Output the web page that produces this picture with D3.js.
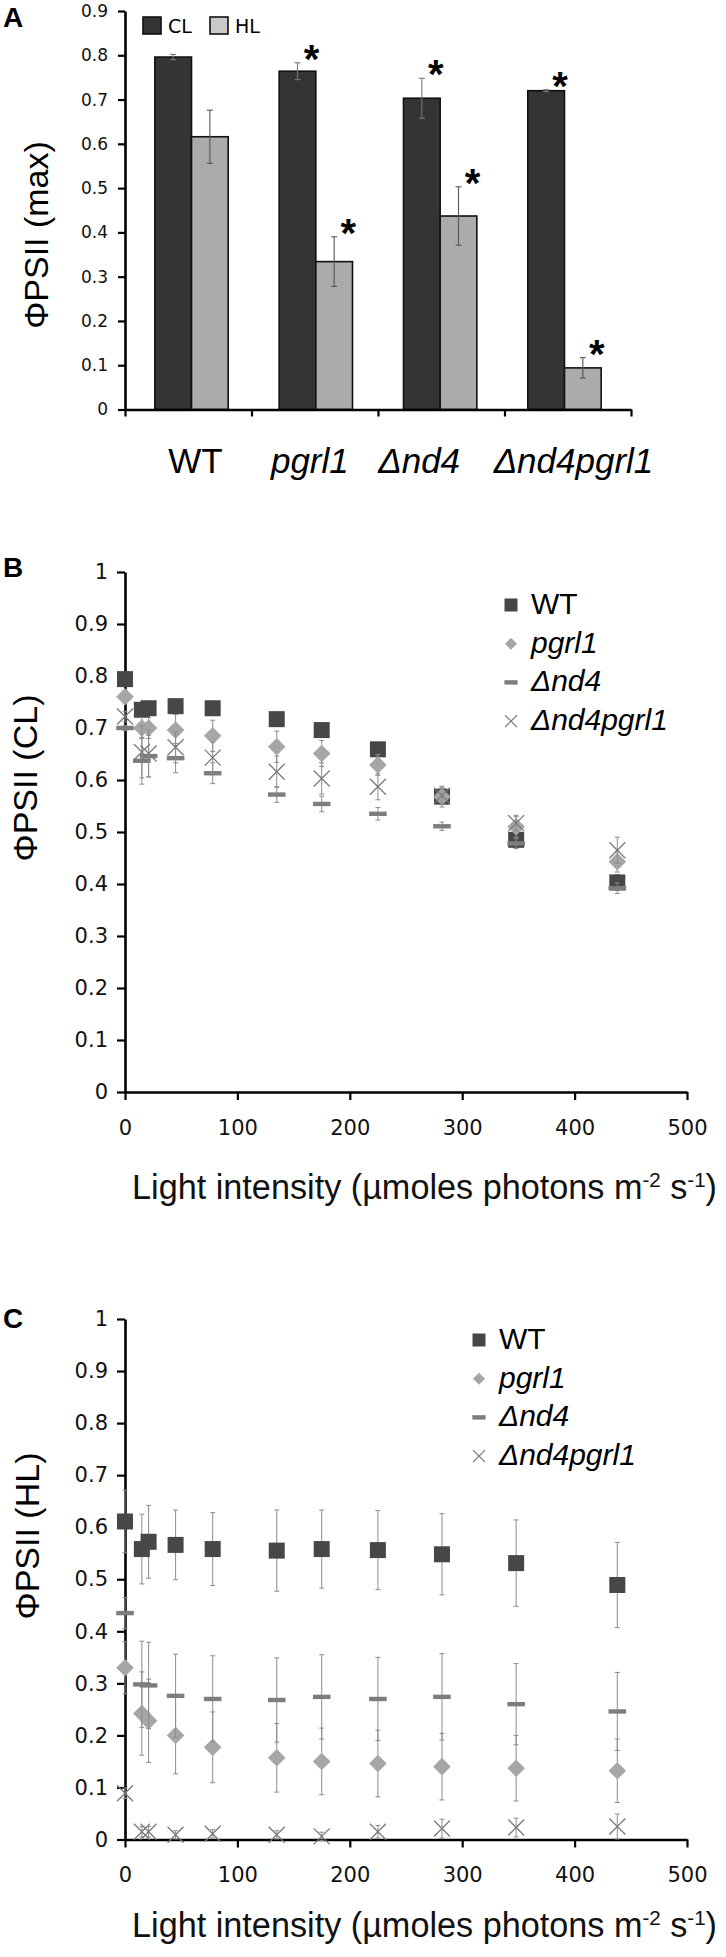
<!DOCTYPE html>
<html><head><meta charset="utf-8">
<script src="https://cdn.jsdelivr.net/npm/d3@7"></script>
<style>body{margin:0;background:#fff} svg{display:block}</style>
</head><body>
<svg id="chart" width="726" height="1957"></svg>
<script>
// ---------- Panel A data ----------
const genotypes = ["WT", "pgrl1", "Δnd4", "Δnd4pgrl1"];
const conditions = ["CL", "HL"];
const clMax = [0.796, 0.764, 0.703, 0.720];
const clMaxErr = [0.006, 0.019, 0.045, 0.002];
const clStar = [false, true, true, true];
const hlMax = [0.616, 0.334, 0.437, 0.094];
const hlMaxErr = [0.060, 0.056, 0.066, 0.023];
const hlStar = [false, true, true, true];
const barTicks = [0, 0.1, 0.2, 0.3, 0.4, 0.5, 0.6, 0.7, 0.8, 0.9];

// ---------- Panels B / C data ----------
const lightIntensity = [0, 15, 21, 45, 78, 135, 175, 225, 282, 348, 438];
const xTicks = [0, 100, 200, 300, 400, 500];
const yTicks = [0, 0.1, 0.2, 0.3, 0.4, 0.5, 0.6, 0.7, 0.8, 0.9, 1];

const clWT = [0.794, 0.735, 0.738, 0.742, 0.738, 0.717, 0.696, 0.659, 0.568, 0.485, 0.403];
const clWTErr = [0.005, 0.008, 0.008, 0.008, 0.008, 0.010, 0.010, 0.010, 0.015, 0.015, 0.015];
const clPgrl1 = [0.760, 0.700, 0.700, 0.696, 0.685, 0.664, 0.651, 0.629, 0.568, 0.510, 0.443];
const clPgrl1Err = [0.010, 0.020, 0.020, 0.030, 0.030, 0.030, 0.025, 0.020, 0.020, 0.020, 0.020];
const clNd4 = [0.700, 0.637, 0.646, 0.642, 0.613, 0.572, 0.554, 0.535, 0.511, 0.478, 0.392];
const clNd4Err = [0.005, 0.045, 0.040, 0.028, 0.020, 0.015, 0.015, 0.012, 0.008, 0.010, 0.010];
const clNd4Pgrl1 = [0.722, 0.654, 0.651, 0.663, 0.643, 0.616, 0.603, 0.587, 0.570, 0.517, 0.465];
const clNd4Pgrl1Err = [0.010, 0.050, 0.045, 0.030, 0.030, 0.030, 0.030, 0.025, 0.015, 0.015, 0.025];

const hlWT = [0.611, 0.558, 0.572, 0.566, 0.558, 0.555, 0.558, 0.556, 0.548, 0.531, 0.489];
const hlWTErr = [0.060, 0.067, 0.070, 0.067, 0.070, 0.078, 0.075, 0.076, 0.078, 0.083, 0.082];
const hlPgrl1 = [0.330, 0.242, 0.228, 0.200, 0.177, 0.157, 0.150, 0.146, 0.140, 0.137, 0.132];
const hlPgrl1Err = [0.050, 0.080, 0.080, 0.074, 0.068, 0.066, 0.064, 0.064, 0.064, 0.063, 0.061];
const hlNd4 = [0.435, 0.298, 0.296, 0.276, 0.270, 0.268, 0.274, 0.270, 0.274, 0.260, 0.246];
const hlNd4Err = [0.030, 0.083, 0.083, 0.080, 0.083, 0.081, 0.081, 0.080, 0.083, 0.078, 0.075];
const hlNd4Pgrl1 = [0.089, 0.015, 0.015, 0.009, 0.011, 0.009, 0.006, 0.015, 0.021, 0.023, 0.025];
const hlNd4Pgrl1Err = [0.010, 0.010, 0.010, 0.008, 0.008, 0.008, 0.008, 0.012, 0.018, 0.018, 0.024];

const seriesNames = ["WT", "pgrl1", "Δnd4", "Δnd4pgrl1"];
const markerTypes = ["square", "diamond", "dash", "cross"];
const markerColors = ["#474747", "#a6a6a6", "#7d7d7d", "#7a7a7a"];

// ---------- helpers ----------
const svg = d3.select("#chart");
const TITLE_FONT = "'Liberation Sans', Arial, sans-serif";
const TICK_FONT = "'DejaVu Sans', Verdana, sans-serif";

function genoLabel(sel, name) {
  if (name === "WT") sel.text(name);
  else sel.attr("font-style", "italic").text(name);
}
function fmt(d) { return (d === 0 || d === 1) ? String(d) : d.toFixed(1); }

function styleAxis(g, fontSize) {
  g.select(".domain").attr("stroke", "#000").attr("stroke-width", 2.6);
  g.selectAll(".tick line").attr("stroke", "#000").attr("stroke-width", 2.2);
  g.selectAll(".tick text").attr("font-family", TICK_FONT).attr("font-size", fontSize).attr("fill", "#111");
}

function drawMarker(g, type, color, cx, cy, s) {
  if (type === "square") {
    g.append("rect").attr("x", cx - s / 2).attr("y", cy - s / 2).attr("width", s).attr("height", s)
      .attr("fill", color);
  } else if (type === "diamond") {
    const r = s * 0.55;
    g.append("path").attr("d", `M${cx},${cy - r}L${cx + r},${cy}L${cx},${cy + r}L${cx - r},${cy}Z`)
      .attr("fill", color);
  } else if (type === "dash") {
    g.append("rect").attr("x", cx - s * 0.55).attr("y", cy - 2.2).attr("width", s * 1.1).attr("height", 4.4)
      .attr("fill", color);
  } else {
    const r = s * 0.5;
    g.append("path").attr("d", `M${cx - r},${cy - r}L${cx + r},${cy + r}M${cx - r},${cy + r}L${cx + r},${cy - r}`)
      .attr("stroke", color).attr("stroke-width", 1.3).attr("fill", "none");
  }
}

// ---------- Panel A ----------
(function () {
  const left = 125, right = 631, top = 11, bottom = 409.5;
  const y = d3.scaleLinear().domain([0, 0.9]).range([bottom, top]);
  const x0 = d3.scaleBand().domain(genotypes).range([left, right]).paddingInner(0.41).paddingOuter(0.24);
  const x1 = d3.scaleBand().domain(conditions).range([0, x0.bandwidth()]);
  const boundary = d3.scaleLinear().domain([0, genotypes.length]).range([left, right]);
  const fills = { CL: "#343434", HL: "#ababab" };
  const vals = { CL: clMax, HL: hlMax };
  const errs = { CL: clMaxErr, HL: hlMaxErr };
  const stars = { CL: clStar, HL: hlStar };

  const g = svg.append("g");
  conditions.forEach(c => {
    genotypes.forEach((gn, i) => {
      const bx = x0(gn) + x1(c), bw = x1.bandwidth();
      g.append("rect").attr("x", bx).attr("y", y(vals[c][i])).attr("width", bw)
        .attr("height", y(0) - y(vals[c][i])).attr("fill", fills[c]).attr("stroke", "#111").attr("stroke-width", 1.6);
    });
  });
  conditions.forEach(c => {
    genotypes.forEach((gn, i) => {
      const cx = x0(gn) + x1(c) + x1.bandwidth() / 2;
      const v = vals[c][i], e = errs[c][i];
      const col = c === "CL" ? "#777" : "#555";
      g.append("line").attr("x1", cx).attr("x2", cx).attr("y1", y(v + e)).attr("y2", y(v - e)).attr("stroke", col).attr("stroke-width", 1.1);
      [v + e, v - e].forEach(t => g.append("line").attr("x1", cx - 3).attr("x2", cx + 3).attr("y1", y(t)).attr("y2", y(t)).attr("stroke", col).attr("stroke-width", 1.1));
      if (stars[c][i]) {
        g.append("text").attr("x", cx + 14).attr("y", y(v + e) + 10).attr("text-anchor", "middle")
          .attr("font-family", TITLE_FONT).attr("font-weight", "bold").attr("font-size", 40).text("*");
      }
    });
  });

  const ya = svg.append("g").attr("transform", `translate(${left},0)`)
    .call(d3.axisLeft(y).tickValues(barTicks).tickFormat(fmt).tickSize(7).tickSizeOuter(0).tickPadding(10));
  styleAxis(ya, 17);
  const xa = svg.append("g").attr("transform", `translate(0,${bottom})`)
    .call(d3.axisBottom(boundary).tickValues(d3.range(genotypes.length + 1)).tickFormat("").tickSize(7).tickSizeOuter(0));
  styleAxis(xa, 17);

  // category labels: typed as one line in the original, so each sits slightly off its band centre
  const labelShift = [4, -6, -21, 9];
  genotypes.forEach((gn, i) => {
    const t = svg.append("text").attr("x", x0(gn) + x0.bandwidth() / 2 + labelShift[i]).attr("y", 473)
      .attr("text-anchor", "middle").attr("font-family", TITLE_FONT).attr("font-size", 35).attr("fill", "#000");
    genoLabel(t, gn);
  });

  svg.append("text").attr("transform", "translate(48,235) rotate(-90)").attr("text-anchor", "middle")
    .attr("font-family", TITLE_FONT).attr("font-size", 34).text("ΦPSII (max)");
  svg.append("text").attr("x", 3).attr("y", 27).attr("font-family", TITLE_FONT).attr("font-weight", "bold")
    .attr("font-size", 28).text("A");

  // legend
  const lg = svg.append("g");
  const lx = [143, 210];
  conditions.forEach((c, i) => {
    lg.append("rect").attr("x", lx[i]).attr("y", 17).attr("width", 18).attr("height", 17)
      .attr("fill", c === "CL" ? "#343434" : "#c9c9c9").attr("stroke", "#111").attr("stroke-width", 1.6);
    lg.append("text").attr("x", lx[i] + 25).attr("y", 33).attr("font-family", TICK_FONT).attr("font-size", 19).text(c);
  });
})();

// ---------- Panels B & C ----------
function scatterPanel(opts) {
  const left = 125, right = 687;
  const x = d3.scaleLinear().domain([0, 500]).range([left, right]);
  const y = d3.scaleLinear().domain([0, 1]).range([opts.y0, opts.y1]);
  const g = svg.append("g");

  const ya = g.append("g").attr("transform", `translate(${left},0)`)
    .call(d3.axisLeft(y).tickValues(yTicks).tickFormat(fmt).tickSize(8).tickSizeOuter(0).tickPadding(9));
  styleAxis(ya, 21);
  const xa = g.append("g").attr("transform", `translate(0,${opts.y0})`)
    .call(d3.axisBottom(x).tickValues(xTicks).tickFormat(d3.format("d")).tickSize(8).tickSizeOuter(0).tickPadding(20));
  styleAxis(xa, 21);

  opts.series.forEach((s, si) => {
    const sg = g.append("g");
    lightIntensity.forEach((li, i) => {
      const cx = x(li), v = s.values[i], e = s.errors[i];
      sg.append("line").attr("x1", cx).attr("x2", cx).attr("y1", y(v + e)).attr("y2", y(v - e))
        .attr("stroke", "#8c8c8c").attr("stroke-width", 1);
      [v + e, v - e].forEach(t => sg.append("line").attr("x1", cx - 2.5).attr("x2", cx + 2.5)
        .attr("y1", y(t)).attr("y2", y(t)).attr("stroke", "#8c8c8c").attr("stroke-width", 1));
    });
    lightIntensity.forEach((li, i) => {
      drawMarker(sg, markerTypes[si], markerColors[si], x(li), y(s.values[i]), 16);
    });
  });

  // legend
  const lgd = g.append("g");
  seriesNames.forEach((n, i) => {
    const ry = opts.legendY + i * 38.7;
    drawMarker(lgd, markerTypes[i], markerColors[i], opts.legendX, ry, i === 0 ? 13 : i === 1 ? 11 : 12);
    const t = lgd.append("text").attr("x", opts.legendX + 20).attr("y", ry + 9)
      .attr("font-family", TITLE_FONT).attr("font-size", 30).attr("fill", "#000");
    genoLabel(t, n);
  });

  // titles
  g.append("text").attr("transform", `translate(${opts.ylabX},${opts.ylabY}) rotate(-90)`).attr("text-anchor", "middle")
    .attr("font-family", TITLE_FONT).attr("font-size", 34).text(opts.ylabel);
  const base = 32, target = 585;
  const xt = g.append("text").attr("x", 424.5).attr("y", opts.xtitleY).attr("text-anchor", "middle")
    .attr("font-family", TITLE_FONT).attr("font-size", base).attr("fill", "#111");
  xt.append("tspan").text("Light intensity (µmoles photons m");
  const sup1 = xt.append("tspan").attr("font-size", base * 0.6).attr("dy", -12).text("-2");
  xt.append("tspan").attr("dy", 12).text(" s");
  const sup2 = xt.append("tspan").attr("font-size", base * 0.6).attr("dy", -12).text("-1");
  xt.append("tspan").attr("dy", 12).text(")");
  const w = xt.node().getComputedTextLength();
  if (w > 0) {
    const k = target / w, fs = base * k;
    xt.attr("font-size", fs);
    sup1.attr("font-size", fs * 0.6);
    sup2.attr("font-size", fs * 0.6);
  }

  g.append("text").attr("x", 3).attr("y", opts.letterY).attr("font-family", TITLE_FONT).attr("font-weight", "bold")
    .attr("font-size", 28).text(opts.letter);
}

scatterPanel({
  y0: 1092, y1: 572, letter: "B", letterY: 577, ylabel: "ΦPSII (CL)", ylabX: 37, ylabY: 778,
  xtitleY: 1199, legendX: 511, legendY: 605,
  series: [
    { values: clWT, errors: clWTErr },
    { values: clPgrl1, errors: clPgrl1Err },
    { values: clNd4, errors: clNd4Err },
    { values: clNd4Pgrl1, errors: clNd4Pgrl1Err }
  ]
});
scatterPanel({
  y0: 1839.5, y1: 1319, letter: "C", letterY: 1328, ylabel: "ΦPSII  (HL)", ylabX: 39, ylabY: 1536,
  xtitleY: 1937, legendX: 479, legendY: 1340,
  series: [
    { values: hlWT, errors: hlWTErr },
    { values: hlPgrl1, errors: hlPgrl1Err },
    { values: hlNd4, errors: hlNd4Err },
    { values: hlNd4Pgrl1, errors: hlNd4Pgrl1Err }
  ]
});
</script>
</body></html>
